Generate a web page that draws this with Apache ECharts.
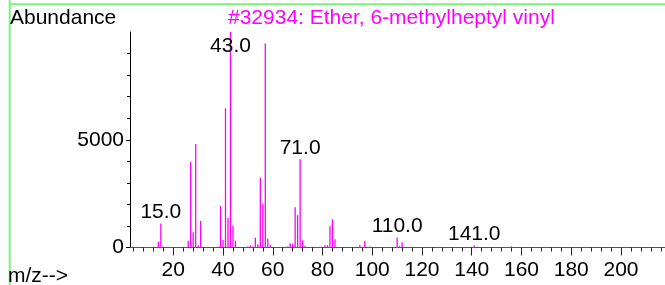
<!DOCTYPE html>
<html>
<head>
<meta charset="utf-8">
<script src="https://cdn.jsdelivr.net/npm/echarts@6/dist/echarts.min.js"></script>
<style>
  html, body { margin: 0; padding: 0; background: #fff; }
  #chart { width: 665px; height: 285px; }
</style>
</head>
<body>
<div id="chart"></div>
<script>
// spectrum
const mz = [14, 15, 16, 18, 26, 27, 28, 29, 30, 31, 38, 39, 40, 41, 42, 43, 44, 45,
  50, 51, 52, 53, 54, 55, 56, 57, 58, 59, 65, 66, 67, 68, 69, 70, 71, 72, 73, 77, 79,
  81, 82, 83, 84, 85, 86, 95, 96, 97, 99, 110, 111, 112, 113, 141, 156]
const abundance = [263, 1115, 50, 30, 310, 3970, 712, 4805, 110, 1230, 48, 1930, 350, 6460, 1380, 9999, 1000, 318,
  50, 93, 30, 450, 155, 3235, 2030, 9470, 410, 115, 40, 50, 201, 170, 1865, 1500, 4090, 335, 85, 30, 30,
  108, 108, 985, 1300, 387, 30, 115, 40, 300, 46, 464, 62, 240, 30, 93, 54]
const labeledPeaks = [15, 43, 71, 110, 141]
const xMajorTicks = [20, 40, 60, 80, 100, 120, 140, 160, 180, 200]
const xMinorTicks = []
for (let v = 4; v <= 216; v += 4) {
  if (v % 20 !== 0) xMinorTicks.push(v)
}
const yTicks = [0, 5000]

const font = 'Liberation Sans, Arial, sans-serif'
const fontSize = 21
const magenta = '#ff00ff'
const green = '#7ef07e'

const chart = echarts.init(document.getElementById('chart'))

const data = mz.map((m, i) => {
  const item = { value: [m, abundance[i]] }
  if (labeledPeaks.indexOf(m) >= 0) {
    item.label = {
      show: true,
      position: abundance[i] > 9000 ? 'insideTop' : 'top',
      distance: abundance[i] > 9000 ? 4 : 1,
      formatter: m.toFixed(1)
    }
  }
  return item
})

const option = {
  animation: false,
  backgroundColor: '#fff',
  textStyle: { fontFamily: font },
  title: [
    { text: 'Abundance', left: 10, top: 8, padding: 0,
      textStyle: { fontFamily: font, fontSize: fontSize, fontWeight: 'normal', color: '#000' } },
    { text: '#32934: Ether, 6-methylheptyl vinyl', left: 228, top: 8, padding: 0,
      textStyle: { fontFamily: font, fontSize: fontSize, fontWeight: 'normal', color: magenta } },
    { text: 'm/z-->', left: 8, top: 266, padding: 0,
      textStyle: { fontFamily: font, fontSize: fontSize, fontWeight: 'normal', color: '#000' } }
  ],
  graphic: [
    { type: 'line', shape: { x1: 9.7, y1: 0, x2: 9.7, y2: 285 }, style: { stroke: green, lineWidth: 2 } },
    { type: 'line', shape: { x1: 9.7, y1: 4.3, x2: 665, y2: 4.3 }, style: { stroke: green, lineWidth: 2 } }
  ],
  grid: { left: 130, top: 32, right: 0, bottom: 37.5, containLabel: false },
  xAxis: [{
    type: 'value',
    min: 2.6,
    max: 217.7,
    position: 'bottom',
    splitLine: { show: false },
    axisLine: { show: true, onZero: false, lineStyle: { color: '#555', width: 1 } },
    axisTick: { show: true, customValues: xMajorTicks, length: 8, lineStyle: { color: '#222' } },
    axisLabel: { customValues: xMajorTicks, margin: 12, fontSize: fontSize, color: '#000', fontFamily: font }
  }, {
    type: 'value',
    min: 2.6,
    max: 217.7,
    position: 'bottom',
    splitLine: { show: false },
    axisLine: { show: false },
    axisTick: { show: true, customValues: xMinorTicks, length: 4, lineStyle: { color: '#222' } },
    axisLabel: { show: false }
  }],
  yAxis: {
    type: 'value',
    min: 0,
    max: 10000,
    interval: 5000,
    splitLine: { show: false },
    axisLine: { show: true, lineStyle: { color: '#000', width: 1 } },
    axisTick: { show: true, customValues: yTicks, length: 4, lineStyle: { color: '#000' } },
    minorTick: { show: true, splitNumber: 5, length: 3, lineStyle: { color: '#000' } },
    axisLabel: {
      customValues: yTicks, margin: 6, fontSize: fontSize, color: '#000', fontFamily: font,
      formatter: v => String(v)
    }
  },
  series: [{
    type: 'bar',
    xAxisIndex: 0,
    barWidth: 1.3,
    itemStyle: { color: magenta },
    label: { show: false, fontSize: fontSize, color: '#000', fontFamily: font },
    data: data
  }]
}
chart.setOption(option)
</script>
</body>
</html>
